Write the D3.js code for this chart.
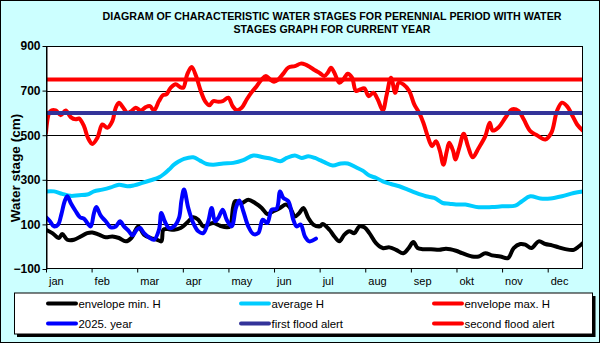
<!DOCTYPE html>
<html><head><meta charset="utf-8">
<script src="https://cdn.jsdelivr.net/npm/d3@7"></script>
<style>
body{margin:0;background:#fff}
svg{display:block}
text{font-family:"Liberation Sans",Arial,sans-serif}
</style>
</head><body>
<svg id="c" width="600" height="343"></svg>
<script>
// ---------- DATA ----------
const months = ["jan","feb","mar","apr","may","jun","jul","aug","sep","okt","nov","dec"];
const monthTickDays = [0,31,62,93,124,155,186,217,248,279,310,341];
const yTicks = [-100,100,300,500,700,900];
const gridValues = [100,300,500,700];
const firstFloodAlert = 600;
const secondFloodAlert = 750;

// [day of year, water stage cm]
const envelopeMin = [[0,76],[4.3,61],[8.8,39],[11,57],[14.5,31],[19,31],[23.6,46],[28,61],[31.5,64],[36,54],[40.6,42],[45.1,46],[49.6,39],[54.2,24],[58,39],[62.7,91],[66.6,54],[71.2,39],[75.7,31],[78.4,24],[79.8,76],[82.5,79],[87,76],[91.5,84],[95.6,106],[100.1,132],[103.5,121],[106.9,91],[110.3,99],[113.7,106],[118.3,94],[122.8,87],[125.1,91],[128.5,204],[133,196],[137.5,211],[142.1,196],[146.6,174],[150.4,147],[154.5,159],[159.1,174],[163.2,189],[165.9,174],[169.2,136],[172.2,151],[174.9,174],[178.3,129],[181.7,99],[186.2,91],[188,102],[192.6,76],[196,46],[199.4,24],[202.8,54],[206.2,69],[209.6,61],[213,91],[216.4,87],[219.8,61],[224.3,16],[228.9,-6],[233.4,-3],[237.9,-14],[242.9,-29],[246.5,-6],[249.7,21],[252.6,-6],[256,-11],[261.7,-11],[267.3,-14],[271.9,-9],[278.7,-18],[282.8,-29],[289.6,-44],[294.1,-44],[298.6,-29],[303.2,-39],[308.8,-44],[314,-51],[317.9,-6],[322.4,12],[325.8,9],[329.9,-6],[334.9,24],[339.4,12],[344,6],[348.5,-3],[353,-11],[358.7,-14],[362.1,1],[364.8,16]];

const averageH = [[0,248],[5.5,248],[11,237],[16.8,228],[22.4,231],[28,234],[32.6,248],[38.3,256],[44,266],[49.6,278],[55.3,271],[59.8,275],[65.5,286],[71.2,298],[76.8,311],[80.2,326],[83.6,346],[87,368],[90.4,383],[93.8,394],[100.1,401],[104.7,386],[109.2,371],[113.7,368],[120.5,373],[127.3,376],[134.1,388],[140.9,409],[147.7,401],[153.4,394],[159.3,383],[163.6,398],[169.2,409],[173.8,398],[178.3,406],[182.8,398],[186.2,388],[189.2,379],[194.9,364],[200.5,373],[205.1,373],[210.7,356],[215.3,341],[219.8,319],[224.5,308],[228.9,293],[234.5,281],[240.1,271],[245.9,256],[251.5,241],[258.3,226],[263.9,219],[269.6,196],[274.1,193],[278.7,189],[285,189],[294.1,177],[303.2,178],[310,181],[319,184],[323.5,204],[329.2,226],[336,216],[342.8,216],[350.7,226],[358.7,241],[364.8,248]];

const envelopeMax = [[0,511],[3,608],[6.6,611],[10,590],[13.4,611],[16.8,581],[20.2,571],[22.4,575],[25.8,541],[28.5,488],[31.5,461],[34.9,488],[38.3,548],[41.7,533],[45.1,563],[47.4,623],[49.6,645],[52.5,623],[55.3,600],[58,608],[61,623],[64.4,611],[67.8,626],[70.7,630],[73.4,611],[76.8,653],[79.5,680],[81.8,683],[84.8,713],[88.2,728],[91.1,716],[93.3,713],[96,773],[99,806],[102,765],[105.2,698],[108.1,653],[111,634],[113.7,653],[117.1,650],[120.1,653],[123.9,668],[126.9,630],[129.6,612],[133,623],[136.4,660],[139.8,693],[143.2,720],[146.6,750],[149.5,765],[152.3,750],[155,740],[157.9,750],[161.3,776],[164.7,803],[169.2,810],[173.1,821],[176,818],[179.4,806],[182.8,791],[186.2,778],[189.2,765],[191.5,780],[193.7,803],[196,780],[199.4,735],[202.1,750],[205.1,776],[208,758],[210.7,698],[213.4,705],[216.4,710],[219.3,675],[222.5,690],[225.5,660],[228.9,611],[231.6,683],[234.5,758],[237.4,690],[239.7,735],[242.9,728],[246.9,698],[250.3,638],[253.7,600],[256.5,556],[259.4,496],[262.4,451],[265.1,473],[267.8,428],[270.1,368],[272.4,428],[274.1,466],[276.8,428],[278.2,391],[280.9,443],[283.9,506],[286.8,451],[290,401],[294.1,443],[298.6,496],[301.6,556],[303.6,521],[307.7,536],[312.2,578],[316.7,616],[321.3,608],[324.7,571],[329.2,518],[333.7,500],[339.4,481],[343.5,511],[347.3,608],[350.7,646],[354.1,630],[358,585],[361,548],[364.8,521]];

const year2025 = [[0,132],[2.7,114],[5.4,91],[8.2,99],[10.4,144],[12.7,204],[14.5,226],[16.8,196],[20.2,159],[23.1,132],[25.8,126],[28.1,106],[30.4,91],[32.6,151],[34.2,178],[37.2,139],[40.6,114],[44,87],[47.4,91],[50.3,114],[53,91],[56.4,69],[58.7,51],[61.7,76],[63.9,84],[66.6,61],[70,42],[73.4,31],[76.8,76],[78.4,151],[80.7,114],[83.6,84],[87,91],[90.4,129],[92,204],[93.8,256],[96.7,174],[100.1,106],[103.5,69],[106.9,61],[110.3,114],[112.6,174],[114.9,114],[117.1,129],[120.1,166],[122.8,121],[126.2,91],[129.1,174],[131.4,207],[134.1,159],[137.5,91],[140.9,57],[144.3,61],[147.3,121],[150.4,106],[153.4,166],[156.8,171],[159.1,248],[161.3,219],[164.7,204],[168.1,121],[170.4,91],[173.1,99],[176,46],[179,24],[183.5,36]];

const legendNames = ["envelope min. H","average H","envelope max. H","2025. year","first flood alert","second flood alert"];
const legendColors = ["#000000","#00ccff","#ff0000","#0000ff","#333399","#ff0000"];

// ---------- DRAW ----------
const svg = d3.select("#c");
const W = 600, H = 343;
const L = 46, R = 583, T = 46, B = 269;

svg.append("rect").attr("x",0.5).attr("y",0.5).attr("width",W-1).attr("height",H-1)
  .attr("fill","#ccffff").attr("stroke","#000").attr("stroke-width",1);

const x = d3.scaleLinear().domain([0,365]).range([L,R]);
const y = d3.scaleLinear().domain([-100,900]).range([B,T]);

svg.append("rect").attr("x",L).attr("y",T).attr("width",R-L).attr("height",B-T).attr("fill","#fff");

// gridlines
svg.append("g").selectAll("line").data(gridValues).join("line")
  .attr("x1",L).attr("x2",R).attr("y1",d=>Math.round(y(d))+0.5).attr("y2",d=>Math.round(y(d))+0.5)
  .attr("stroke","#000").attr("stroke-width",1);

svg.append("defs").append("clipPath").attr("id","clip")
  .append("rect").attr("x",L).attr("y",T).attr("width",R-L).attr("height",B-T);

const line = d3.line().x(d=>x(d[0])).y(d=>y(d[1])).curve(d3.curveCatmullRom.alpha(0.5));
const gLines = svg.append("g").attr("clip-path","url(#clip)");
const seriesList = [
  {data:envelopeMin,color:legendColors[0]},
  {data:averageH,color:legendColors[1]},
  {data:envelopeMax,color:legendColors[2]},
  {data:year2025,color:legendColors[3]}
];
seriesList.forEach(s=>{
  gLines.append("path").attr("d",line(s.data)).attr("fill","none")
    .attr("stroke",s.color).attr("stroke-width",4)
    .attr("stroke-linejoin","round").attr("stroke-linecap","round");
});
[[firstFloodAlert,legendColors[4]],[secondFloodAlert,legendColors[5]]].forEach(([v,c])=>{
  gLines.append("line").attr("x1",x(0)).attr("x2",x(365)).attr("y1",y(v)).attr("y2",y(v))
    .attr("stroke",c).attr("stroke-width",4);
});

// plot border
svg.append("rect").attr("x",L+0.5).attr("y",T+0.5).attr("width",R-L-1).attr("height",B-T-1)
  .attr("fill","none").attr("stroke","#000").attr("stroke-width",1);

// y axis
const yAxis = svg.append("g").attr("transform",`translate(${L+0.5},0)`)
  .call(d3.axisLeft(y).tickValues(yTicks).tickSize(4).tickSizeOuter(0).tickPadding(2).tickFormat(d3.format("d")));
yAxis.select(".domain").attr("stroke","#000");
yAxis.selectAll("text").attr("font-size","12px").attr("font-weight","bold").attr("fill","#000")
  .attr("font-family","'Liberation Sans',Arial,sans-serif");

// x axis
const xAxis = svg.append("g").attr("transform",`translate(0,${B-0.5})`)
  .call(d3.axisBottom(x).tickValues(monthTickDays).tickSize(4).tickSizeOuter(0).tickFormat((d,i)=>months[i]));
xAxis.select(".domain").remove();
xAxis.selectAll("text").attr("text-anchor","start").attr("x",2.5).attr("dy",null).attr("y",16.5)
  .attr("font-size","11px").attr("fill","#000").attr("font-family","'Liberation Sans',Arial,sans-serif");

// y title
svg.append("text").attr("transform","translate(20,168) rotate(-90)").attr("text-anchor","middle")
  .attr("font-size","13.5px").attr("font-weight","bold").text("Water stage (cm)");

// title
svg.append("text").attr("x",332).attr("y",20).attr("text-anchor","middle")
  .attr("font-size","11.5px").attr("font-weight","bold")
  .attr("textLength",459).attr("lengthAdjust","spacingAndGlyphs")
  .text("DIAGRAM OF CHARACTERISTIC WATER  STAGES FOR PERENNIAL  PERIOD  WITH WATER");
svg.append("text").attr("x",332).attr("y",32.5).attr("text-anchor","middle")
  .attr("font-size","11.5px").attr("font-weight","bold")
  .attr("textLength",197).attr("lengthAdjust","spacingAndGlyphs")
  .text("STAGES GRAPH FOR CURRENT  YEAR");

// legend
const lg = svg.append("g");
lg.append("rect").attr("x",17).attr("y",296).attr("width",578.5).attr("height",41).attr("fill","#000");
lg.append("rect").attr("x",14.5).attr("y",293).attr("width",578).attr("height",41)
  .attr("fill","#fff").attr("stroke","#000").attr("stroke-width",1);
const colX = [48,241,434];
const rowY = [303.5,323.5];
legendNames.forEach((n,i)=>{
  const cx = colX[i%3], cy = rowY[Math.floor(i/3)];
  lg.append("line").attr("x1",cx).attr("x2",cx+28).attr("y1",cy).attr("y2",cy)
    .attr("stroke",legendColors[i]).attr("stroke-width",4).attr("stroke-linecap","round");
  lg.append("text").attr("x",cx+30.5).attr("y",cy+4).attr("font-size","11.4px").attr("fill","#000").text(n);
});
</script>
</body></html>
